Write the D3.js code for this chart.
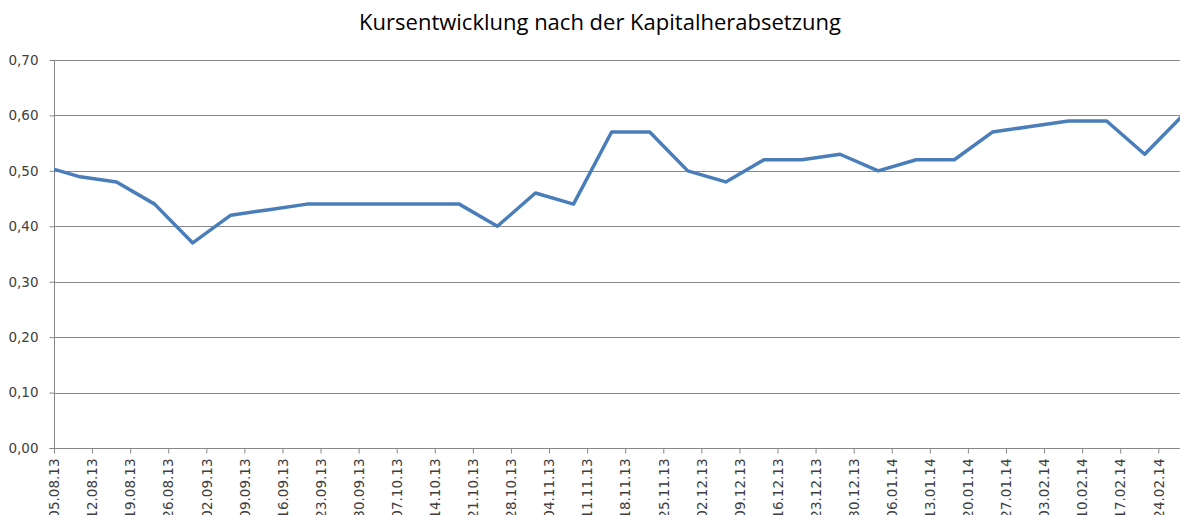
<!DOCTYPE html>
<html>
<head>
<meta charset="utf-8">
<script src="https://cdn.jsdelivr.net/npm/d3@7"></script>
<style>
  body { margin: 0; background: #fff; }
  svg { display: block; }
</style>
</head>
<body>
<div id="chart"></div>
<script>
const TITLE = 'Kursentwicklung nach der Kapitalherabsetzung';

// weekly closing prices (Fridays), the first one lies before the axis start
const dates = ['02.08.13', '09.08.13', '16.08.13', '23.08.13', '30.08.13', '06.09.13', '13.09.13', '20.09.13',
  '27.09.13', '04.10.13', '11.10.13', '18.10.13', '25.10.13', '01.11.13', '08.11.13', '15.11.13', '22.11.13',
  '29.11.13', '06.12.13', '13.12.13', '20.12.13', '27.12.13', '03.01.14', '10.01.14', '17.01.14', '24.01.14',
  '31.01.14', '07.02.14', '14.02.14', '21.02.14', '28.02.14'];
const prices = [0.51, 0.49, 0.48, 0.44, 0.37, 0.42, 0.43, 0.44,
  0.44, 0.44, 0.44, 0.44, 0.40, 0.46, 0.44, 0.57, 0.57,
  0.50, 0.48, 0.52, 0.52, 0.53, 0.50, 0.52, 0.52, 0.57,
  0.58, 0.59, 0.59, 0.53, 0.60];

const tickLabels = ['05.08.13', '12.08.13', '19.08.13', '26.08.13', '02.09.13', '09.09.13', '16.09.13', '23.09.13',
  '30.09.13', '07.10.13', '14.10.13', '21.10.13', '28.10.13', '04.11.13', '11.11.13', '18.11.13', '25.11.13',
  '02.12.13', '09.12.13', '16.12.13', '23.12.13', '30.12.13', '06.01.14', '13.01.14', '20.01.14', '27.01.14',
  '03.02.14', '10.02.14', '17.02.14', '24.02.14'];
const yTicks = [0, 0.1, 0.2, 0.3, 0.4, 0.5, 0.6, 0.7];
const xStart = '05.08.13';
const xEnd = '01.03.14';

const parse = d3.utcParse('%d.%m.%y');
const fmtY = v => d3.format('.2f')(v).replace('.', ',');

const W = 1180, H = 515;
const plotLeft = 54, plotTop = 60, plotBottom = 448, plotRight = 1185.5;

const svg = d3.select('#chart')
  .append('svg')
  .attr('width', W)
  .attr('height', H);

const x = d3.scaleUtc()
  .domain([parse(xStart), parse(xEnd)])
  .range([plotLeft, plotRight]);

const y = d3.scaleLinear()
  .domain([0, 0.7])
  .range([plotBottom, plotTop]);

// title
svg.append('text')
  .attr('x', 600)
  .attr('y', 30)
  .attr('text-anchor', 'middle')
  .attr('font-family', 'Open Sans, sans-serif')
  .attr('font-size', 22)
  .attr('fill', '#000')
  .text(TITLE);

// gridlines
svg.append('g')
  .selectAll('line')
  .data(yTicks.slice(1))
  .join('line')
  .attr('x1', plotLeft)
  .attr('x2', W)
  .attr('y1', d => Math.round(y(d)) + 0.5)
  .attr('y2', d => Math.round(y(d)) + 0.5)
  .attr('stroke', '#878787')
  .attr('stroke-width', 1);

// y axis
const yAxis = svg.append('g')
  .attr('transform', 'translate(' + (plotLeft + 0.5) + ',0)')
  .call(d3.axisLeft(y).tickValues(yTicks).tickFormat(fmtY).tickSize(5).tickPadding(11));
yAxis.select('.domain').attr('stroke', '#878787').attr('d', 'M-5,' + (plotBottom + 0.5) + 'H0V' + plotTop);
yAxis.selectAll('.tick line').attr('stroke', '#878787');
yAxis.selectAll('.tick text')
  .attr('font-family', 'DejaVu Sans, sans-serif')
  .attr('font-size', 13.5)
  .attr('fill', '#404040');

// x axis
const xAxis = svg.append('g')
  .attr('transform', 'translate(0,' + (plotBottom + 0.5) + ')')
  .call(d3.axisBottom(x)
    .tickValues(tickLabels.map(parse))
    .tickFormat(d3.utcFormat('%d.%m.%y'))
    .tickSize(5)
    .tickSizeOuter(0));
xAxis.select('.domain').attr('stroke', '#878787').attr('d', 'M' + plotLeft + ',0H' + W);
xAxis.selectAll('.tick line').attr('stroke', '#878787');
xAxis.selectAll('.tick text')
  .attr('font-family', 'DejaVu Sans, sans-serif')
  .attr('font-size', 13.5)
  .attr('fill', '#404040')
  .attr('text-anchor', 'end')
  .attr('dy', '0.35em')
  .attr('transform', 'translate(0,10) rotate(-90)')
  .attr('x', 0)
  .attr('y', 0);

// clip to plot area
svg.append('clipPath')
  .attr('id', 'plot-clip')
  .append('rect')
  .attr('x', plotLeft)
  .attr('y', 0)
  .attr('width', plotRight - plotLeft)
  .attr('height', plotBottom);

// points sit in the middle of their day
const series = dates.map((d, i) => ({ date: d3.utcHour.offset(parse(d), 12), value: prices[i] }));

const line = d3.line()
  .x(d => x(d.date))
  .y(d => y(d.value));

svg.append('path')
  .datum(series)
  .attr('clip-path', 'url(#plot-clip)')
  .attr('fill', 'none')
  .attr('stroke', '#4a7ebb')
  .attr('stroke-width', 3.5)
  .attr('stroke-linejoin', 'round')
  .attr('d', line);
</script>
</body>
</html>
